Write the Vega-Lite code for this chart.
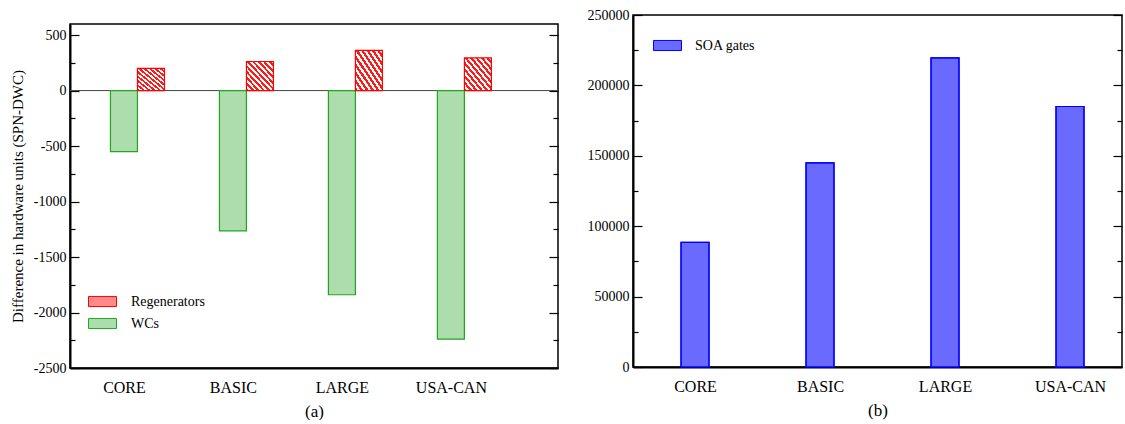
{
  "$schema": "https://vega.github.io/schema/vega-lite/v6.json",
  "padding": {"left": 9, "top": 7, "right": 0, "bottom": 0},
  "spacing": 26,
  "config": {
    "view": {"stroke": "#000", "strokeWidth": 1.5},
    "font": "Liberation Serif",
    "axis": {"labelFont": "Liberation Serif", "titleFont": "Liberation Serif", "labelColor": "#000", "titleColor": "#000", "grid": false},
    "legend": {"labelFont": "Liberation Serif", "labelColor": "#000"}
  },
  "datasets": {
    "a": [
      {"net": "CORE", "series": "Regenerators", "value": 200},
      {"net": "CORE", "series": "WCs", "value": -550},
      {"net": "BASIC", "series": "Regenerators", "value": 262},
      {"net": "BASIC", "series": "WCs", "value": -1265},
      {"net": "LARGE", "series": "Regenerators", "value": 362},
      {"net": "LARGE", "series": "WCs", "value": -1840},
      {"net": "USA-CAN", "series": "Regenerators", "value": 295},
      {"net": "USA-CAN", "series": "WCs", "value": -2240}
    ],
    "b": [
      {"net": "CORE", "series": "SOA gates", "value": 88500},
      {"net": "BASIC", "series": "SOA gates", "value": 145000},
      {"net": "LARGE", "series": "SOA gates", "value": 219500},
      {"net": "USA-CAN", "series": "SOA gates", "value": 185000}
    ]
  },
  "hconcat": [
    {
      "spacing": 7,
      "vconcat": [
        {
          "width": 488,
          "height": 1,
          "view": {"stroke": null},
          "data": {"values": []},
          "mark": {"type": "rule", "opacity": 0},
          "encoding": {}
        },
        {
          "width": 488,
          "height": 344,
          "data": {"name": "a"},
          "resolve": {"axis": {"y": "independent"}},
          "layer": [
            {
              "data": {"values": [{}]},
              "mark": {"type": "rule", "color": "#444", "strokeWidth": 1},
              "encoding": {
                "y": {
                  "datum": 0, "type": "quantitative",
                  "scale": {"domain": [-2500, 600], "nice": false, "zero": false},
                  "axis": {
                    "orient": "left",
                    "values": [-2500, -2250, -2000, -1750, -1500, -1250, -1000, -750, -500, -250, 0, 250, 500],
                    "tickSize": {"condition": {"test": "datum.value % 500 === 0", "value": -9}, "value": -5},
                    "labelExpr": "datum.value % 500 === 0 ? '' + datum.value : ''",
                    "labelFontSize": 14, "labelPadding": 13,
                    "title": "Difference in hardware units (SPN-DWC)",
                    "titleFontSize": 15, "titleFontWeight": "normal", "titlePadding": 8,
                    "domainColor": "#000", "domainWidth": 2, "tickColor": "#000", "tickWidth": 1.2
                  }
                }
              }
            },
            {
              "transform": [{"filter": "datum.series === 'WCs'"}],
              "mark": {"type": "bar", "width": 27, "strokeWidth": 1.2},
              "encoding": {
                "x": {
                  "field": "net", "type": "nominal", "sort": null,
                  "scale": {"type": "point", "padding": 0.739, "align": 0.335},
                  "axis": {"title": "(a)", "titleFontSize": 17, "titleFontWeight": "normal", "titlePadding": 8,
                           "labelFontSize": 16, "labelPadding": 11, "labelAngle": 0, "ticks": false,
                           "domainColor": "#000", "domainWidth": 2}
                },
                "y": {"field": "value", "type": "quantitative", "scale": {"domain": [-2500, 600], "nice": false, "zero": false}, "axis": null},
                "fill": {
                  "field": "series", "type": "nominal",
                  "scale": {"domain": ["Regenerators", "WCs"], "range": ["#ff8a8a", "#addcad"]},
                  "legend": {
                    "orient": "none", "legendX": 18, "legendY": 272, "title": null,
                    "symbolType": "M-1,-0.36L1,-0.36L1,0.36L-1,0.36Z", "symbolSize": 784, "symbolStrokeWidth": 1,
                    "labelFontSize": 14, "labelOffset": 14, "rowPadding": -10
                  }
                },
                "stroke": {
                  "field": "series", "type": "nominal",
                  "scale": {"domain": ["Regenerators", "WCs"], "range": ["#ff0000", "#1fa81f"]}
                }
              }
            },
            {
              "transform": [{"filter": "datum.series === 'Regenerators'"}],
              "mark": {
                "type": "bar", "width": 27, "xOffset": 27, "stroke": "#ff0000", "strokeWidth": 1.2,
                "fill": {
                  "gradient": "linear", "x1": 0, "y1": 1, "x2": 1, "y2": 0,
                  "stops": [
                    {"offset": 0, "color": "#ff1a1a"}, {"offset": 0.05, "color": "#ff1a1a"}, {"offset": 0.05, "color": "#ffffff"}, {"offset": 0.1, "color": "#ffffff"},
                    {"offset": 0.1, "color": "#ff1a1a"}, {"offset": 0.15, "color": "#ff1a1a"}, {"offset": 0.15, "color": "#ffffff"}, {"offset": 0.2, "color": "#ffffff"},
                    {"offset": 0.2, "color": "#ff1a1a"}, {"offset": 0.25, "color": "#ff1a1a"}, {"offset": 0.25, "color": "#ffffff"}, {"offset": 0.3, "color": "#ffffff"},
                    {"offset": 0.3, "color": "#ff1a1a"}, {"offset": 0.35, "color": "#ff1a1a"}, {"offset": 0.35, "color": "#ffffff"}, {"offset": 0.4, "color": "#ffffff"},
                    {"offset": 0.4, "color": "#ff1a1a"}, {"offset": 0.45, "color": "#ff1a1a"}, {"offset": 0.45, "color": "#ffffff"}, {"offset": 0.5, "color": "#ffffff"},
                    {"offset": 0.5, "color": "#ff1a1a"}, {"offset": 0.55, "color": "#ff1a1a"}, {"offset": 0.55, "color": "#ffffff"}, {"offset": 0.6, "color": "#ffffff"},
                    {"offset": 0.6, "color": "#ff1a1a"}, {"offset": 0.65, "color": "#ff1a1a"}, {"offset": 0.65, "color": "#ffffff"}, {"offset": 0.7, "color": "#ffffff"},
                    {"offset": 0.7, "color": "#ff1a1a"}, {"offset": 0.75, "color": "#ff1a1a"}, {"offset": 0.75, "color": "#ffffff"}, {"offset": 0.8, "color": "#ffffff"},
                    {"offset": 0.8, "color": "#ff1a1a"}, {"offset": 0.85, "color": "#ff1a1a"}, {"offset": 0.85, "color": "#ffffff"}, {"offset": 0.9, "color": "#ffffff"},
                    {"offset": 0.9, "color": "#ff1a1a"}, {"offset": 0.95, "color": "#ff1a1a"}, {"offset": 0.95, "color": "#ffffff"}, {"offset": 1, "color": "#ffffff"}
                  ]
                }
              },
              "encoding": {
                "x": {"field": "net", "type": "nominal", "sort": null},
                "y": {
                  "field": "value", "type": "quantitative",
                  "scale": {"domain": [-2500, 600], "nice": false, "zero": false},
                  "axis": {
                    "orient": "right",
                    "values": [-2500, -2250, -2000, -1750, -1500, -1250, -1000, -750, -500, -250, 0, 250, 500],
                    "tickSize": {"condition": {"test": "datum.value % 500 === 0", "value": -9}, "value": -5},
                    "labels": false, "domain": false, "title": null, "tickColor": "#000", "tickWidth": 1.2
                  }
                }
              }
            }
          ]
        }
      ]
    },
    {
      "width": 489,
      "height": 352,
      "data": {"name": "b"},
      "resolve": {"axis": {"y": "independent"}},
      "encoding": {
        "x": {
          "field": "net", "type": "nominal", "sort": null,
          "scale": {"type": "point", "padding": 0.456, "align": 0.544},
          "axis": {"title": "(b)", "titleFontSize": 17, "titleFontWeight": "normal", "titlePadding": 8,
                   "labelFontSize": 16, "labelPadding": 11, "labelAngle": 0, "ticks": false,
                   "domainColor": "#000", "domainWidth": 2}
        }
      },
      "layer": [
        {
          "mark": {"type": "bar", "width": 28, "strokeWidth": 1.2},
          "encoding": {
            "y": {
              "field": "value", "type": "quantitative",
              "scale": {"domain": [0, 250000], "nice": false},
              "axis": {
                "orient": "left",
                "values": [0, 25000, 50000, 75000, 100000, 125000, 150000, 175000, 200000, 225000, 250000],
                "tickSize": {"condition": {"test": "datum.value % 50000 === 0", "value": -9}, "value": -5},
                "labelExpr": "datum.value % 50000 === 0 ? '' + datum.value : ''",
                "labelFontSize": 14, "labelPadding": 13, "title": null,
                "domainColor": "#000", "domainWidth": 2, "tickColor": "#000", "tickWidth": 1.2
              }
            },
            "fill": {
              "field": "series", "type": "nominal",
              "scale": {"domain": ["SOA gates"], "range": ["#6a6aff"]},
              "legend": {
                "orient": "none", "legendX": 20, "legendY": 16, "title": null,
                "symbolType": "M-1,-0.36L1,-0.36L1,0.36L-1,0.36Z", "symbolSize": 784, "symbolStrokeWidth": 1,
                "labelFontSize": 14, "labelOffset": 13
              }
            },
            "stroke": {
              "field": "series", "type": "nominal",
              "scale": {"domain": ["SOA gates"], "range": ["#0000ff"]}
            }
          }
        },
        {
          "mark": {"type": "bar", "width": 28, "fillOpacity": 0, "stroke": "#0000ff", "strokeWidth": 1.2},
          "encoding": {
            "y": {
              "field": "value", "type": "quantitative",
              "scale": {"domain": [0, 250000], "nice": false},
              "axis": {
                "orient": "right",
                "values": [0, 25000, 50000, 75000, 100000, 125000, 150000, 175000, 200000, 225000, 250000],
                "tickSize": {"condition": {"test": "datum.value % 50000 === 0", "value": -9}, "value": -5},
                "labels": false, "domain": false, "title": null, "tickColor": "#000", "tickWidth": 1.2
              }
            }
          }
        }
      ]
    }
  ],
  "resolve": {
    "scale": {"x": "independent", "y": "independent", "fill": "independent", "stroke": "independent"},
    "legend": {"fill": "independent", "stroke": "independent"}
  }
}
